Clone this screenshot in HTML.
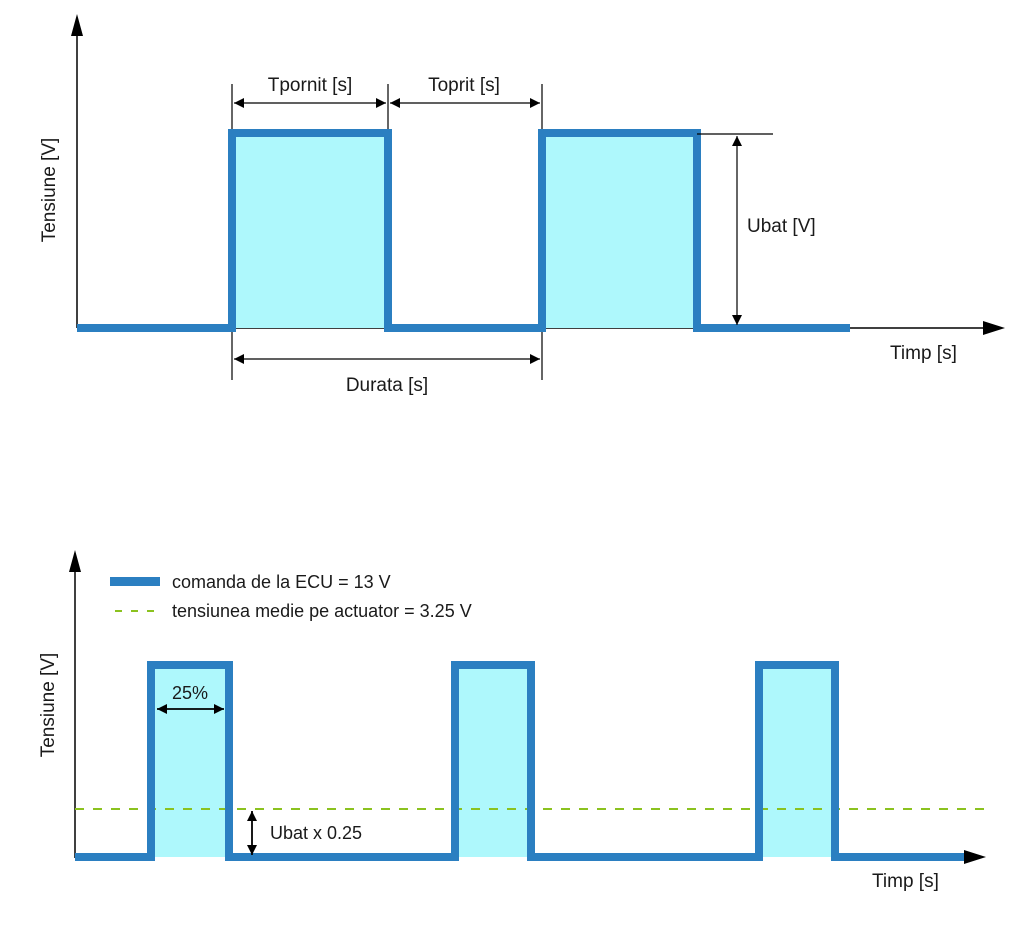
<!DOCTYPE html>
<html><head><meta charset="utf-8"><style>
html,body{margin:0;padding:0;background:#fff;}
svg{display:block;}
text{font-family:"Liberation Sans",sans-serif;fill:#1a1a1a;}
</style></head><body>
<svg width="1010" height="932" viewBox="0 0 1010 932" xmlns="http://www.w3.org/2000/svg">
<defs>
<marker id="ah" viewBox="0 0 10 10" refX="10" refY="5" markerWidth="14" markerHeight="10" markerUnits="userSpaceOnUse" orient="auto-start-reverse"><path d="M0,0 L10,5 L0,10 z" fill="#000"/></marker>
</defs>
<!-- TOP CHART -->
<g stroke="#000" stroke-width="1.2">
<line x1="232" y1="84" x2="232" y2="380"/>
<line x1="388" y1="84" x2="388" y2="133"/>
<line x1="542" y1="84" x2="542" y2="380"/>
</g>
<line x1="77" y1="328" x2="77" y2="22" stroke="#000" stroke-width="1.5"/>
<path d="M77,14 L71,36 L83,36 z" fill="#000"/>
<line x1="77" y1="328" x2="985" y2="328" stroke="#000" stroke-width="1.5"/>
<path d="M1005,328 L983,321 L983,335 z" fill="#000"/>
<rect x="232" y="133" width="156" height="195" fill="#aef8fc"/>
<rect x="542" y="133" width="155" height="195" fill="#aef8fc"/>
<polyline points="77,328 232,328 232,133 388,133 388,328 542,328 542,133 697,133 697,328 850,328" fill="none" stroke="#2b7fc1" stroke-width="8"/>
<g stroke="#000" stroke-width="1.2">
<line x1="234" y1="103" x2="386" y2="103" marker-start="url(#ah)" marker-end="url(#ah)"/>
<line x1="390" y1="103" x2="540" y2="103" marker-start="url(#ah)" marker-end="url(#ah)"/>
<line x1="234" y1="359" x2="540" y2="359" marker-start="url(#ah)" marker-end="url(#ah)"/>
<line x1="697" y1="134" x2="773" y2="134"/>
<line x1="737" y1="136" x2="737" y2="325" marker-start="url(#ah)" marker-end="url(#ah)"/>
</g>
<text x="310" y="91" font-size="19" text-anchor="middle">Tpornit [s]</text>
<text x="464" y="91" font-size="19" text-anchor="middle">Toprit [s]</text>
<text x="387" y="391" font-size="19" text-anchor="middle">Durata [s]</text>
<text x="747" y="232" font-size="19">Ubat [V]</text>
<text x="890" y="359" font-size="19">Timp [s]</text>
<text transform="translate(55,190) rotate(-90)" font-size="19" text-anchor="middle">Tensiune [V]</text>

<!-- BOTTOM CHART -->
<line x1="75" y1="858" x2="75" y2="565" stroke="#000" stroke-width="1.5"/>
<path d="M75,550 L69,572 L81,572 z" fill="#000"/>
<rect x="151" y="665" width="78" height="192" fill="#aef8fc"/>
<rect x="455" y="665" width="76" height="192" fill="#aef8fc"/>
<rect x="759" y="665" width="76" height="192" fill="#aef8fc"/>
<line x1="75" y1="809" x2="985" y2="809" stroke="#8bc21f" stroke-width="2" stroke-dasharray="9,9"/>
<polyline points="75,857 151,857 151,665 229,665 229,857 455,857 455,665 531,665 531,857 759,857 759,665 835,665 835,857 968,857" fill="none" stroke="#2b7fc1" stroke-width="8"/>
<path d="M986,857 L964,850 L964,864 z" fill="#000"/>
<rect x="110" y="577" width="50" height="9" fill="#2b7fc1"/>
<line x1="115" y1="611" x2="160" y2="611" stroke="#8bc21f" stroke-width="2" stroke-dasharray="7,9"/>
<text x="172" y="588" font-size="18">comanda de la ECU = 13 V</text>
<text x="172" y="617" font-size="18">tensiunea medie pe actuator = 3.25 V</text>
<g stroke="#000" stroke-width="1.8">
<line x1="157" y1="709" x2="224" y2="709" marker-start="url(#ah)" marker-end="url(#ah)"/>
<line x1="252" y1="811" x2="252" y2="855" marker-start="url(#ah)" marker-end="url(#ah)"/>
</g>
<text x="190" y="699" font-size="18" text-anchor="middle">25%</text>
<text x="270" y="839" font-size="18">Ubat x 0.25</text>
<text x="872" y="887" font-size="19">Timp [s]</text>
<text transform="translate(54,705) rotate(-90)" font-size="19" text-anchor="middle">Tensiune [V]</text>
</svg>
</body></html>
